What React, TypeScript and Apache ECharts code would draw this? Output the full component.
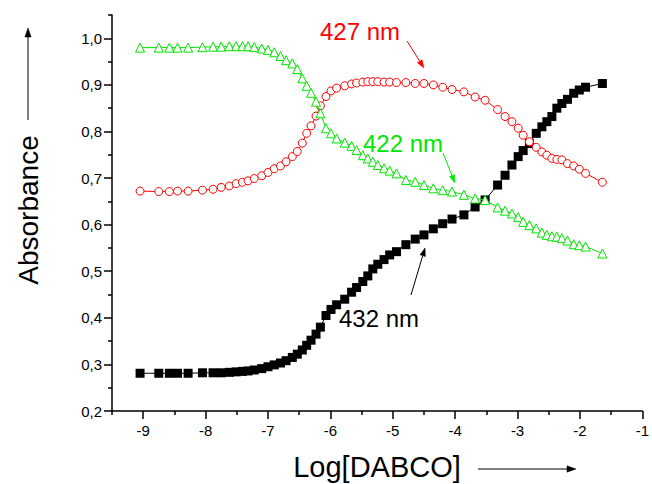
import React, { useEffect, useRef } from "react";
import * as echarts from "echarts";

// Log[DABCO] values (shared by all three series)
const X = [
  -9.05, -8.75, -8.58, -8.45, -8.28, -8.05, -7.88, -7.75, -7.62, -7.51, -7.41, -7.32, -7.22, -7.1, -7.0,
  -6.9, -6.8, -6.71, -6.61, -6.53, -6.45, -6.38, -6.31, -6.23, -6.16, -6.07, -5.99, -5.9, -5.77, -5.66,
  -5.58, -5.48, -5.4, -5.32, -5.24, -5.14, -5.05, -4.94, -4.79, -4.64, -4.5, -4.35, -4.2, -4.05, -3.86,
  -3.68, -3.52, -3.32, -3.2, -3.09, -2.99, -2.91, -2.81, -2.7, -2.61, -2.53, -2.45, -2.37, -2.29, -2.2,
  -2.1, -2.01, -1.91, -1.64,
];

// Absorbance at 432 nm (black squares)
const A432 = [
  0.281, 0.281, 0.281, 0.281, 0.281, 0.282, 0.282, 0.282, 0.283, 0.284, 0.285, 0.286, 0.288, 0.291, 0.295,
  0.299, 0.303, 0.308, 0.315, 0.322, 0.331, 0.341, 0.352, 0.365, 0.38, 0.405, 0.418, 0.428, 0.44, 0.455,
  0.465, 0.478, 0.49, 0.505, 0.515, 0.525, 0.535, 0.542, 0.557, 0.569, 0.578, 0.591, 0.602, 0.612, 0.621,
  0.638, 0.653, 0.685, 0.706, 0.728, 0.746, 0.759, 0.774, 0.796, 0.81, 0.821, 0.832, 0.85, 0.86, 0.869,
  0.882, 0.889, 0.895, 0.903,
];

// Absorbance at 427 nm (red open circles)
const A427 = [
  0.672, 0.671, 0.671, 0.672, 0.672, 0.674, 0.676, 0.68, 0.683, 0.688, 0.691, 0.694, 0.699, 0.705, 0.712,
  0.72, 0.726, 0.735, 0.746, 0.757, 0.775, 0.796, 0.812, 0.833, 0.855, 0.875, 0.887, 0.893, 0.898, 0.902,
  0.904, 0.906, 0.907, 0.907, 0.907, 0.906, 0.906, 0.905, 0.905, 0.903, 0.903, 0.9, 0.895, 0.89, 0.885,
  0.874, 0.867, 0.847, 0.832, 0.821, 0.807, 0.792, 0.778, 0.766, 0.756, 0.749, 0.742, 0.74, 0.739, 0.731,
  0.726, 0.719, 0.71, 0.691,
];

// Absorbance at 422 nm (green open triangles)
const A422 = [
  0.98, 0.98, 0.98, 0.98, 0.98, 0.981, 0.982, 0.982, 0.983, 0.983, 0.983, 0.983, 0.981, 0.978, 0.975,
  0.97, 0.962, 0.953, 0.946, 0.934, 0.914, 0.898, 0.883, 0.864, 0.839, 0.807, 0.796, 0.785, 0.776, 0.769,
  0.76, 0.749, 0.742, 0.735, 0.728, 0.721, 0.716, 0.71, 0.696, 0.692, 0.685, 0.678, 0.674, 0.671, 0.664,
  0.656, 0.653, 0.637, 0.63, 0.624, 0.616, 0.606, 0.599, 0.592, 0.583, 0.578, 0.575, 0.574, 0.571, 0.566,
  0.558, 0.556, 0.553, 0.538,
];

const X_TICKS = [-9, -8, -7, -6, -5, -4, -3, -2, -1];
const X_MINOR = [-9.5, -8.5, -7.5, -6.5, -5.5, -4.5, -3.5, -2.5, -1.5];
const Y_TICKS = [0.2, 0.3, 0.4, 0.5, 0.6, 0.7, 0.8, 0.9, 1.0];
const Y_MINOR = [0.25, 0.35, 0.45, 0.55, 0.65, 0.75, 0.85, 0.95, 1.05];

const FONT = "'Liberation Sans', Arial, sans-serif";
const RED = "#ff0000";
const GREEN = "#00e600";

function arrow(x1: number, y1: number, x2: number, y2: number, color: string, head = 8) {
  const dx = x2 - x1;
  const dy = y2 - y1;
  const len = Math.sqrt(dx * dx + dy * dy);
  const ux = dx / len;
  const uy = dy / len;
  const bx = x2 - ux * head;
  const by = y2 - uy * head;
  const w = head * 0.35;
  return [
    {
      type: "line",
      shape: { x1, y1, x2: bx, y2: by },
      style: { stroke: color, lineWidth: 1 },
      silent: true,
    },
    {
      type: "polygon",
      shape: {
        points: [
          [x2, y2],
          [bx - uy * w, by + ux * w],
          [bx + uy * w, by - ux * w],
        ],
      },
      style: { fill: color, stroke: color, lineWidth: 0.5 },
      silent: true,
    },
  ];
}

export default function App() {
  const ref = useRef<HTMLDivElement>(null);

  useEffect(() => {
    if (!ref.current) return;
    const chart = echarts.init(ref.current, undefined, { renderer: "svg" });
    const axisLineStyle = { color: "#000", width: 1.5 };
    const option: any = {
      animation: false,
      backgroundColor: "#ffffff",
      grid: { left: 112, right: 4, top: 15, bottom: 73, containLabel: false },
      xAxis: [
        {
          type: "value",
          min: -9.5,
          max: -1,
          position: "bottom",
          axisLine: { show: true, onZero: false, lineStyle: axisLineStyle },
          axisTick: { show: true, customValues: X_TICKS, length: 8, lineStyle: axisLineStyle },
          axisLabel: {
            customValues: X_TICKS,
            formatter: (v: number) => String(v),
            fontSize: 15,
            color: "#000",
            fontFamily: FONT,
            margin: 12,
          },
          splitLine: { show: false },
        },
        {
          type: "value",
          min: -9.5,
          max: -1,
          position: "bottom",
          axisLine: { show: false, onZero: false },
          axisTick: { show: true, customValues: X_MINOR, length: 4, lineStyle: axisLineStyle },
          axisLabel: { show: false },
          splitLine: { show: false },
        },
      ],
      yAxis: [
        {
          type: "value",
          min: 0.2,
          max: 1.05,
          position: "left",
          axisLine: { show: true, onZero: false, lineStyle: axisLineStyle },
          axisTick: { show: true, customValues: Y_TICKS, length: 8, lineStyle: axisLineStyle },
          axisLabel: {
            customValues: Y_TICKS,
            formatter: (v: number) => v.toFixed(1).replace(".", ","),
            fontSize: 15,
            color: "#000",
            fontFamily: FONT,
            margin: 10,
          },
          splitLine: { show: false },
        },
        {
          type: "value",
          min: 0.2,
          max: 1.05,
          position: "left",
          axisLine: { show: false, onZero: false },
          axisTick: { show: true, customValues: Y_MINOR, length: 4, lineStyle: axisLineStyle },
          axisLabel: { show: false },
          splitLine: { show: false },
        },
      ],
      series: [
        {
          name: "432 nm",
          type: "line",
          xAxisIndex: 0,
          yAxisIndex: 0,
          data: X.map((x, i) => [x, A432[i]]),
          symbol: "rect",
          symbolSize: 9,
          itemStyle: { color: "#000" },
          lineStyle: { color: "#000", width: 1 },
          z: 2,
        },
        {
          name: "427 nm",
          type: "line",
          xAxisIndex: 0,
          yAxisIndex: 0,
          data: X.map((x, i) => [x, A427[i]]),
          symbol: "circle",
          symbolSize: 8,
          itemStyle: { color: "#fff", borderColor: RED, borderWidth: 1 },
          lineStyle: { color: RED, width: 1 },
          z: 3,
        },
        {
          name: "422 nm",
          type: "line",
          xAxisIndex: 0,
          yAxisIndex: 0,
          data: X.map((x, i) => [x, A422[i]]),
          symbol: "triangle",
          symbolSize: 9,
          itemStyle: { color: "#fff", borderColor: GREEN, borderWidth: 1 },
          lineStyle: { color: GREEN, width: 1 },
          z: 4,
        },
      ],
      graphic: [
        {
          type: "text",
          x: 28,
          y: 210,
          rotation: Math.PI / 2,
          style: {
            text: "Absorbance",
            font: `28px ${FONT}`,
            fill: "#000",
            textAlign: "center",
            textVerticalAlign: "middle",
          },
        },
        ...arrow(28, 120, 28, 28, "#000", 9),
        {
          type: "text",
          x: 377,
          y: 467,
          style: {
            text: "Log[DABCO]",
            font: `29px ${FONT}`,
            fill: "#000",
            textAlign: "center",
            textVerticalAlign: "middle",
          },
        },
        ...arrow(478, 469, 576, 469, "#000", 9),
        {
          type: "text",
          x: 320,
          y: 31,
          style: { text: "427 nm", font: `24px ${FONT}`, fill: RED, textVerticalAlign: "middle" },
        },
        ...arrow(407, 41, 424, 68, RED, 8),
        {
          type: "text",
          x: 363,
          y: 143,
          style: { text: "422 nm", font: `24px ${FONT}`, fill: GREEN, textVerticalAlign: "middle" },
        },
        ...arrow(443, 153, 455, 183, GREEN, 8),
        {
          type: "text",
          x: 339,
          y: 318,
          style: { text: "432 nm", font: `24px ${FONT}`, fill: "#000", textVerticalAlign: "middle" },
        },
        ...arrow(411, 295, 425, 248, "#000", 8),
      ],
    };
    chart.setOption(option);
    return () => chart.dispose();
  }, []);

  return (
    <div
      ref={ref}
      style={{ position: "fixed", left: 0, top: 0, width: 652, height: 484, background: "#fff" }}
    />
  );
}
